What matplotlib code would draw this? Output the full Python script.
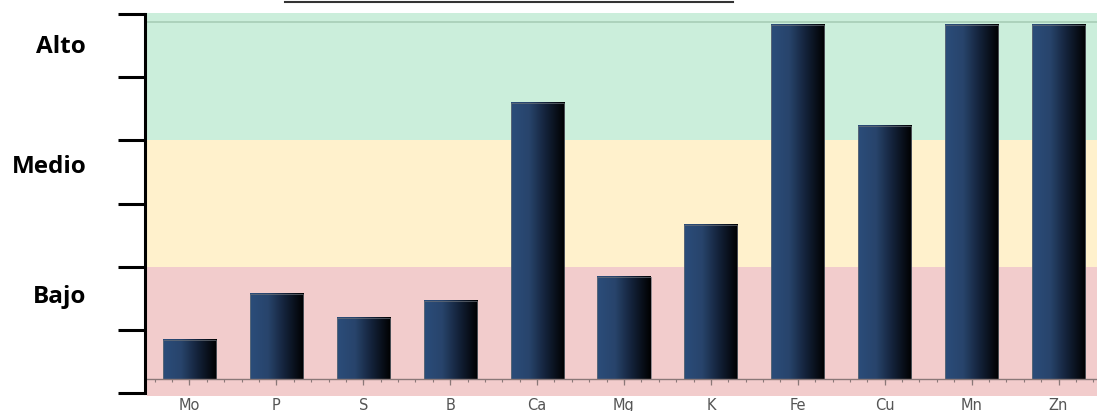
import numpy as np
import matplotlib
matplotlib.use("Agg")
from matplotlib import pyplot as plt
from matplotlib.colors import LinearSegmentedColormap
from matplotlib.lines import Line2D

# nutrientes y nivel de cada barra (escala 0-6: Bajo 0-2, Medio 2-4, Alto 4-6)
nutrientes = ['Mo', 'P', 'S', 'B', 'Ca', 'Mg', 'K', 'Fe', 'Cu', 'Mn', 'Zn']
niveles = [0.84, 1.57, 1.19, 1.46, 4.59, 1.84, 2.66, 5.83, 4.23, 5.83, 5.83]
base = 0.22

bandas = [(-0.05, 2, '#f2cccc'), (2, 4, '#fff1cc'), (4, 6.02, '#cbeedb')]
etiquetas = ['Bajo', 'Medio', 'Alto']
pos_etiquetas = [1.52, 3.58, 5.48]

fig = plt.figure(figsize=(10.97, 4.11), dpi=100)
W, H = 1097, 411
ax = fig.add_axes([147 / W, (H - 396) / H, (W - 147) / W, (396 - 13) / H])

for lo, hi, c in bandas:
    ax.axhspan(lo, hi, color=c, zorder=0, lw=0)
ax.axhline(5.87, color='#a8cdb6', lw=1.2, zorder=1)

# barras con degradado azul -> negro
cmap = LinearSegmentedColormap.from_list('barra', ['#2b4d7a', '#28446c', '#122036', '#000000'])
grad = np.linspace(0, 1, 256).reshape(1, -1)
w = 0.61
x = np.arange(len(nutrientes))
for xi, v in zip(x, niveles):
    ax.imshow(grad, cmap=cmap, aspect='auto', zorder=2,
              extent=[xi - w / 2, xi + w / 2, base, v])
    ax.bar(xi, v - base, bottom=base, width=w, fill=False,
           edgecolor='#6a7078', lw=0.5, zorder=3)

# línea base con marcas
ax.axhline(base, color='#8a7878', lw=1, zorder=3)
menores = np.arange(-0.4, 10.45, 0.2)
ax.vlines(menores, base - 0.05, base, color='#8a7878', lw=0.8, zorder=3)
ax.vlines(x, base - 0.1, base, color='#8a7878', lw=0.9, zorder=3)

ax.set_xlim(-0.489, 10.443)
ax.set_ylim(-0.047, 6.016)

ax.set_xticks(x)
ax.set_xticklabels(nutrientes, color='#555555', fontsize=10.5)
ax.tick_params(axis='x', length=0, pad=1.5)

ax.set_yticks(range(7))
ax.set_yticklabels([])
ax.tick_params(axis='y', length=19.5, width=2.2, color='black')
for s in ['top', 'right', 'bottom']:
    ax.spines[s].set_visible(False)
ax.spines['left'].set_linewidth(2.2)
ax.spines['left'].set_position(('outward', 1.5))
ax.spines['left'].set_bounds(0, 6)

for t, yv in zip(etiquetas, pos_etiquetas):
    ax.text(-0.064, yv, t, transform=ax.get_yaxis_transform(), ha='right', va='center',
            fontsize=17.5, fontweight='bold', family='Open Sans')

# línea superior
fig.add_artist(Line2D([285 / W, 733 / W], [1 - 2 / H, 1 - 2 / H], color='#333333', lw=1.5))

fig.savefig('out.png', dpi=100)
